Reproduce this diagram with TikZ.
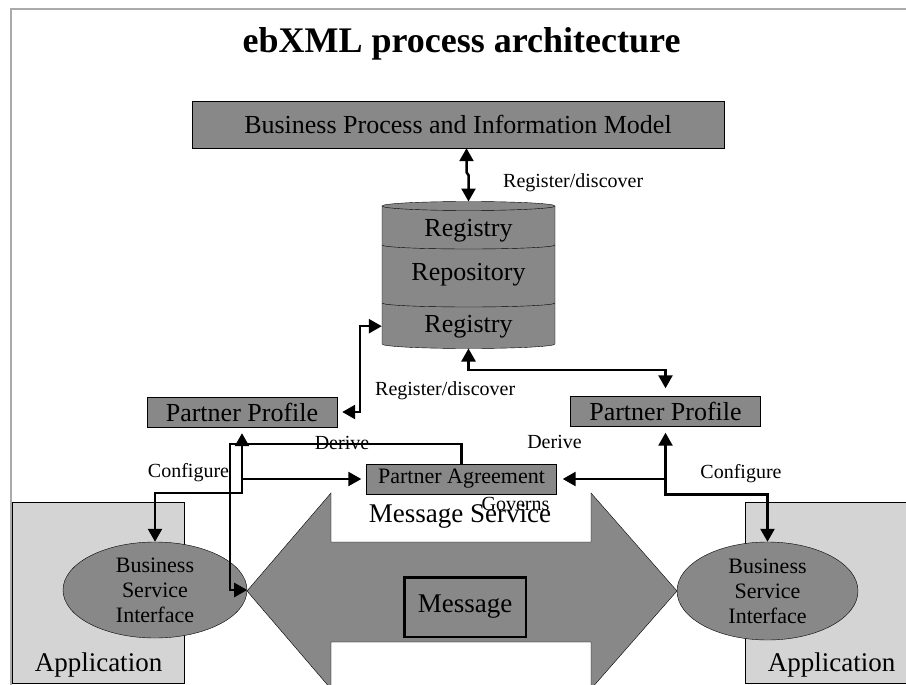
\documentclass[tikz,border=0pt]{standalone}
\usepackage{fontspec}
\setmainfont{Liberation Serif}
\usetikzlibrary{arrows.meta,shapes.geometric}
\definecolor{boxgray}{RGB}{136,136,136}
\definecolor{appgray}{RGB}{212,212,212}
\definecolor{framegray}{RGB}{170,170,170}
\newcommand{\pxfont}[1]{\fontsize{#1}{#1}\selectfont}

\begin{document}
\begin{tikzpicture}[x=1pt,y=-1pt,
  box/.style={draw,rectangle,fill=boxgray,inner sep=0pt},
  partner/.style={box,minimum width=190pt,minimum height=30pt,font=\pxfont{26}},
  bsi/.style={draw,ellipse,fill=boxgray,inner sep=0pt},
  app/.style={draw,fill=appgray,inner sep=0pt,anchor=north west},
  lbl/.style={font=\pxfont{20},inner sep=0pt,anchor=base},
  big/.style={font=\pxfont{27},inner sep=0pt,anchor=base},
  link/.style={line width=2.5pt,-{Triangle[length=13pt,width=14pt]}},
  dlink/.style={line width=2.5pt,{Triangle[length=13pt,width=14pt]}-{Triangle[length=13pt,width=14pt]}}]
\useasboundingbox (0,0) rectangle (906,685);
\draw[framegray,line width=2pt] (10.5,685) |- (906,9);
\node[font=\bfseries\pxfont{36},inner sep=0pt,anchor=base] (title) at (461.5,53) {ebXML process architecture};
% applications and message service
\node[app,minimum width=172pt,minimum height=181pt] (appl) at (12,502) {};
\node[app,minimum width=170pt,minimum height=181pt] (appr) at (745,502) {};
\node[big] (appltxt) at (98.5,671) {Application};
\node[big] (apprtxt) at (831.5,671) {Application};
\draw[fill=boxgray] (247,591) -- (331,493) -- (331,542) -- (591,542) -- (591,493) -- (677,591)
  -- (591,689) -- (591,642) -- (331,642) -- (331,689) -- cycle;
\node[big] (msgsvc) at (460,522) {Message Service};
\node[draw,line width=2.5pt,minimum width=121.5pt,minimum height=59.5pt,font=\pxfont{27}] (msg) at (465,607) {Message};
\node[bsi,minimum width=184pt,minimum height=96pt] (bsil) at (155,590) {};
\node[bsi,minimum width=181pt,minimum height=98pt] (bsir) at (767.5,591) {};
\node[align=center,font=\fontsize{22}{25}\selectfont] (bsiltxt) at (bsil) {Business\\Service\\Interface};
\node[align=center,font=\fontsize{22}{25}\selectfont] (bsirtxt) at (bsir) {Business\\Service\\Interface};
% model, profiles, agreement
\node[box,minimum width=532pt,minimum height=47pt,font=\pxfont{26}] (bpim) at (458,124.5) {Business Process and Information Model};
\node[partner] (ppl) at (242,412) {Partner Profile};
\node[partner] (ppr) at (665.5,411.5) {Partner Profile};
\node[partner,font=\pxfont{22}] (pa) at (461.5,479) {Partner Agreement};
% registry / repository
\draw[fill=boxgray] (382,206) -- (382,344) arc[start angle=180,end angle=0,x radius=86.5,y radius=4.5] -- (555,206);
\draw[fill=boxgray] (468.5,206) ellipse[x radius=86.5,y radius=4.5];
\draw (382,245) arc[start angle=180,end angle=0,x radius=86.5,y radius=4];
\draw (382,303) arc[start angle=180,end angle=0,x radius=86.5,y radius=4];
\coordinate (dbt) at (468.5,201.5);
\coordinate (dbs) at (468.5,348.5);
\node[big,font=\pxfont{26},minimum width=173pt] (reg1) at (468.5,236) {Registry};
\node[big,font=\pxfont{26},minimum width=173pt] (repo) at (468.5,280) {Repository};
\node[big,font=\pxfont{26},minimum width=173pt] (reg2) at (468.5,332) {Registry};
% connectors
\draw[dlink] ([xshift=-2pt]bpim.south -| dbt) -- ++(0,24) -- ++(2,3) -- (dbt);
\draw[dlink,shorten <=5pt] (ppl.east) -- ++(23,0) |- (reg2.west);
\draw[dlink,shorten >=8pt] (dbs) -- ++(0,21.5) -| (ppr.north);
\draw[dlink,shorten <=6pt] (ppl.south) -- ++(0,66) -| (bsil.north);
\draw[link,shorten >=5pt] (ppl.south |- pa.west) -- (pa.west);
\draw[dlink,shorten <=6pt] (ppr.south) -- ++(0,68) -| (bsir.north);
\draw[link,shorten >=6pt] (ppr.south |- pa.east) -- (pa.east);
\draw[link] (pa.north) -- ++(0,-20) -| ([xshift=-17pt]bsil.east) -- (bsil.east);
% labels
\node[lbl,anchor=base west] (rdup) at (503,187) {Register/discover};
\node[lbl,anchor=base west] (rdlo) at (375,395) {Register/discover};
\node[lbl] (derl) at (342,449) {Derive};
\node[lbl] (derr) at (554.5,448) {Derive};
\node[lbl] (cfgl) at (188.5,477) {Configure};
\node[lbl] (cfgr) at (741,478) {Configure};
\node[lbl] (gov) at (515.5,510) {Governs};
\end{tikzpicture}
\end{document}
